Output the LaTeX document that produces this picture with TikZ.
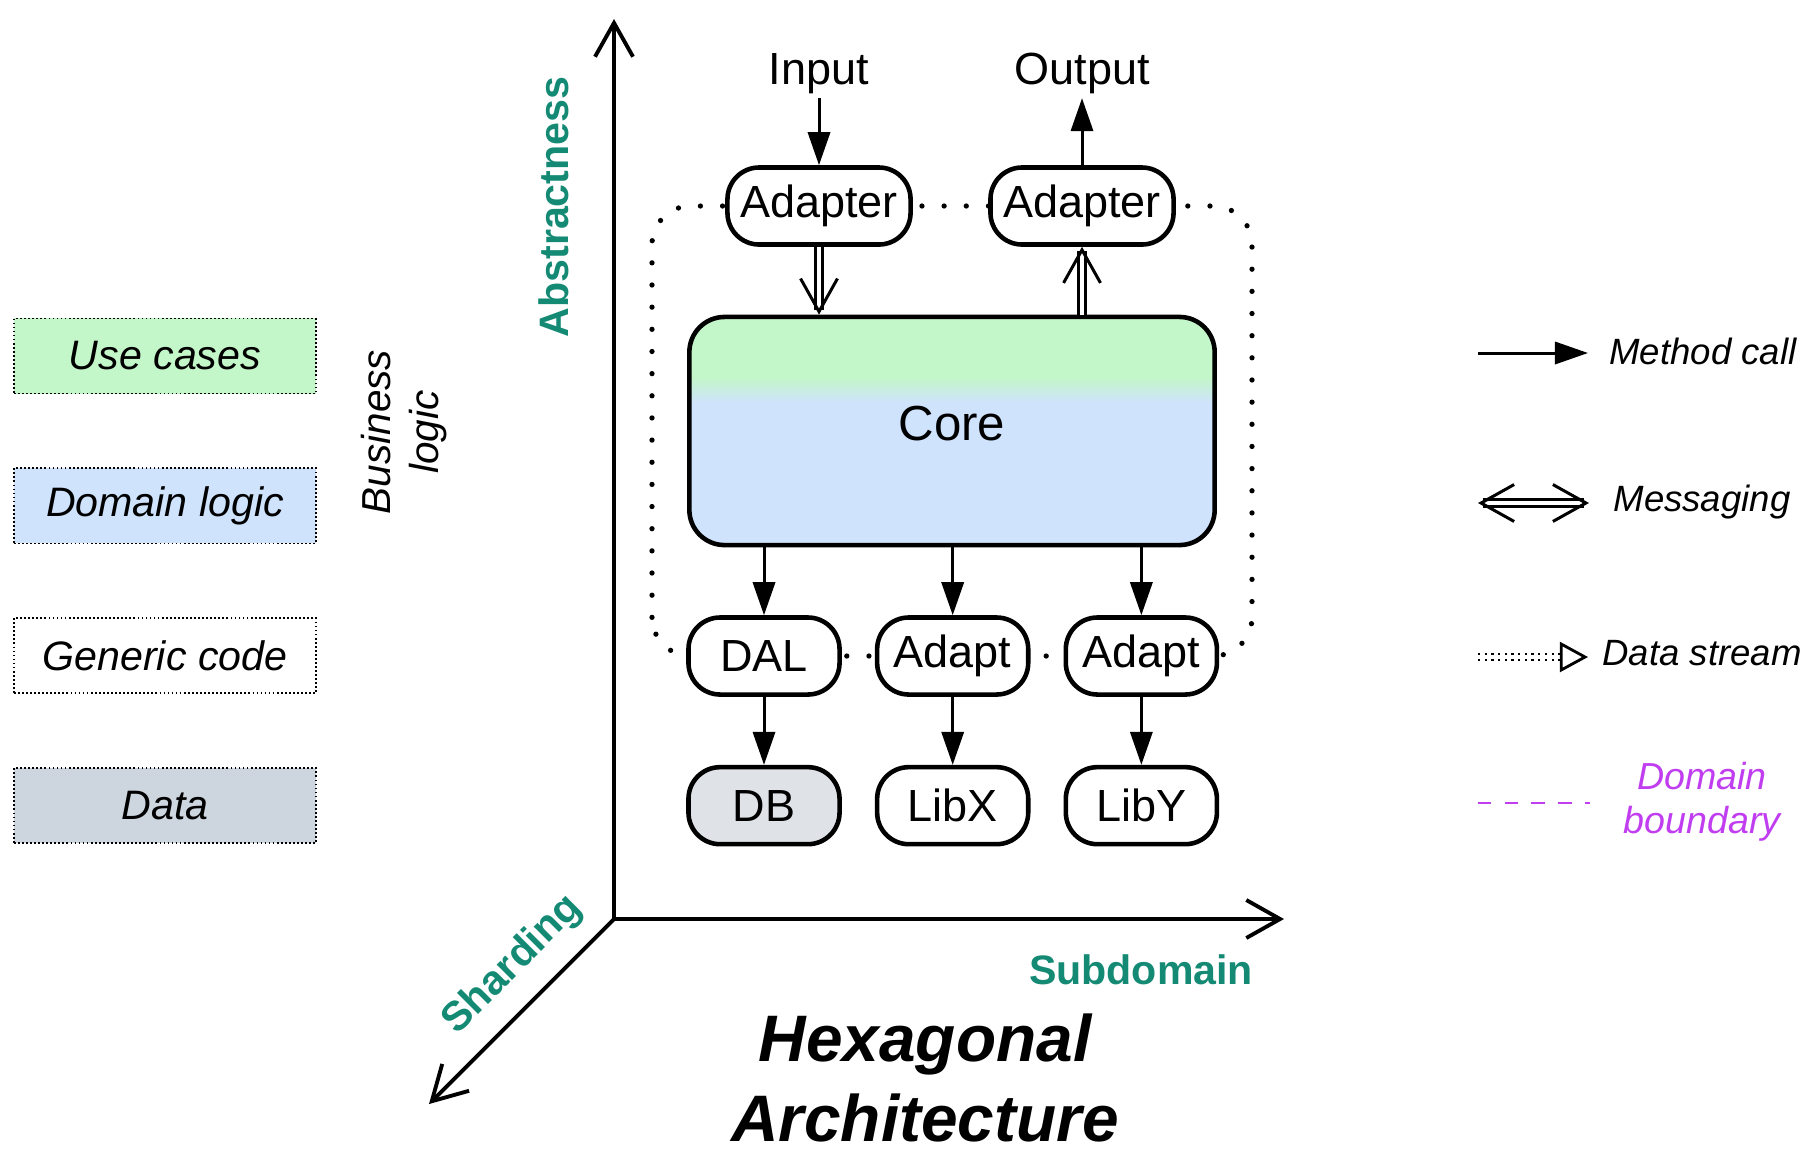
\documentclass[tikz,border=0pt]{standalone}
\usepackage{fontspec}
\setmainfont{Liberation Sans}
\usetikzlibrary{arrows.meta,positioning,calc,backgrounds}
\definecolor{CoreGreen}{HTML}{C3F6C8}
\definecolor{CoreBlue}{HTML}{CFE3FC}
\definecolor{DataGray}{HTML}{CDD5DF}
\definecolor{DBGray}{HTML}{DFE2E7}
\definecolor{AxisTeal}{HTML}{148A74}
\definecolor{BoundMagenta}{HTML}{C03EF0}

\begin{document}
\begin{tikzpicture}[x=0.01cm,y=-0.01cm,
  pill/.style={draw,line width=1.3pt,rounded corners=9pt,fill=white,minimum height=0.77cm,inner sep=2pt,font=\fontsize{12.8}{15}\selectfont},
  core/.style={draw,line width=1.3pt,rounded corners=10pt,fill=CoreBlue,minimum width=5.25cm,minimum height=2.28cm,text depth=0.16cm,font=\fontsize{14}{16}\selectfont,
    path picture={
      \fill[CoreGreen,sharp corners] (path picture bounding box.north west) rectangle ([yshift=-0.6cm]path picture bounding box.north east);
      \shade[top color=CoreGreen,bottom color=CoreBlue,sharp corners] ([yshift=-0.6cm]path picture bounding box.north west) rectangle ([yshift=-0.86cm]path picture bounding box.north east);}},
  call/.style={line width=0.85pt,-{Triangle[length=9.4pt,width=6.3pt]}},
  msg/.style={double,double distance=1.2pt,line width=0.8pt},
  vtip/.tip={Straight Barb[length=9.4pt,width=10.5pt,line width=0.85pt]},
  axis/.style={line width=1.1pt,-{Straight Barb[length=9.6pt,width=10.8pt]}},
  axislbl/.style={text=AxisTeal,font=\fontsize{11.7}{14}\selectfont\bfseries},
  layer/.style={draw,line width=0.5pt,dash pattern=on 0.5pt off 0.65pt,minimum width=3.02cm,minimum height=0.75cm,font=\fontsize{11.7}{14}\selectfont\itshape},
  legtext/.style={font=\fontsize{10.4}{12}\selectfont\itshape},
  boundary/.style={line width=1.5pt,line cap=round,dash pattern=on 0pt off 6.3pt,rounded corners=11pt}]
  \useasboundingbox (0,0) rectangle (1819,1163);

  % layers on the left
  \node[layer,fill=CoreGreen] (uc) at (165,356) {Use cases};
  \node[layer,fill=CoreBlue,below=0.73cm of uc] (dl) {Domain logic};
  \node[layer,below=0.73cm of dl] (gc) {Generic code};
  \node[layer,fill=DataGray,below=0.73cm of gc] (data) {Data};
  \node[rotate=90,align=center,font=\fontsize{11.5}{13.5}\selectfont\itshape] (biz) at (404,432) {Business\\logic};

  % axes
  \coordinate (o) at (614,919);
  \coordinate (ytop) at (614,19);
  \coordinate (xend) at (1284,919);
  \coordinate (zend) at (429,1104);
  \draw[axis] (o) -- (ytop);
  \draw[axis] (o) -- (xend);
  \draw[axis] (o) -- (zend);
  \node[axislbl,rotate=90] (abs) at (554,207) {Abstractness};
  \node[axislbl,rotate=45] (shard) at (513,965) {Sharding};
  \node[axislbl] (sub) at (1141,970) {Subdomain};
  \node[align=center,font=\fontsize{18.7}{22.7}\selectfont\bfseries\itshape] (title) at (925,1078) {Hexagonal\\Architecture};

  % hexagon
  \node[core] (core) at (952,431) {Core};
  \node[pill,minimum width=1.83cm] (ad1) at (819,206) {Adapter};
  \node[pill,minimum width=1.83cm] (ad2) at (1082,206) {Adapter};
  \node[inner sep=1pt,font=\fontsize{12.8}{15}\selectfont,above=0.67cm of ad1] (in) {Input};
  \node[inner sep=1pt,font=\fontsize{12.8}{15}\selectfont,above=0.67cm of ad2] (out) {Output};
  \node[pill,minimum width=1.51cm] (dal) at (764,656) {DAL};
  \node[pill,minimum width=1.51cm,right=0.33cm of dal] (adx) {Adapt};
  \node[pill,minimum width=1.51cm,right=0.33cm of adx] (ady) {Adapt};
  \node[pill,minimum width=1.51cm,fill=DBGray,below=0.68cm of dal] (db) {DB};
  \node[pill,minimum width=1.51cm,below=0.68cm of adx] (libx) {LibX};
  \node[pill,minimum width=1.51cm,below=0.68cm of ady] (liby) {LibY};
  \begin{scope}[on background layer]
    \draw[boundary] ($(dal.center)+(-112,0)$) rectangle ($(ad2.center)+(170,0)$);
  \end{scope}

  \draw[call] (in) -- (ad1);\draw[call] (ad2) -- (out);
  \draw[msg,-vtip] (ad1) -- (core.north -| ad1);
  \draw[msg,-vtip] (core.north -| ad2) -- (ad2);
  \draw[call] (core.south -| dal) -- (dal);\draw[call] (core.south -| adx) -- (adx);\draw[call] (core.south -| ady) -- (ady);
  \draw[call] (dal) -- (db);\draw[call] (adx) -- (libx);\draw[call] (ady) -- (liby);

  % legend
  \coordinate (mc1) at (1478,353);\coordinate (mc2) at (1588,353);
  \coordinate (ms1) at (1478,503);\coordinate (ms2) at (1589,503);
  \coordinate (ds1) at (1478,657);\coordinate (ds2) at (1588,657);
  \coordinate (bd1) at (1478,803);\coordinate (bd2) at (1590,803);
  \draw[call] (mc1) -- (mc2);
  \draw[msg,vtip-vtip] (ms1) -- (ms2);
  \draw[double,double distance=1.4pt,line width=0.55pt,dash pattern=on 0.6pt off 1.3pt,-{Triangle[open,length=8pt,width=8.5pt,line width=0.8pt]}] (ds1) -- (ds2);
  \draw[BoundMagenta,line width=0.6pt,dash pattern=on 3.8pt off 3.8pt] (bd1) -- (bd2);
  \node[legtext] (lmc) at (1703,351) {Method call};
  \node[legtext] (lms) at (1702,502) {Messaging};
  \node[legtext] (lds) at (1702,653) {Data stream};
  \node[legtext,align=center,text=BoundMagenta,font=\fontsize{10.7}{12.5}\selectfont\itshape] (lbd) at (1702,802) {Domain\\boundary};
\end{tikzpicture}
\end{document}
